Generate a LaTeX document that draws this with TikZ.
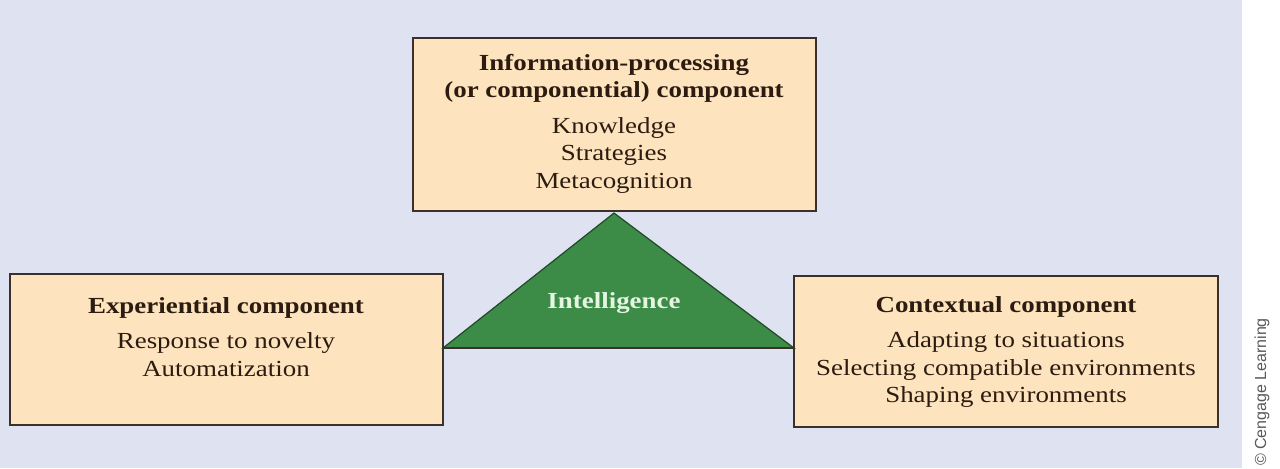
\documentclass[tikz,border=0pt]{standalone}
\usepackage{fontspec}
\setmainfont{Liberation Serif}[FakeStretch=1.17]
\setsansfont{Liberation Sans}
\usetikzlibrary{positioning}
\definecolor{bgblue}{HTML}{DEE2F1}
\definecolor{boxfill}{HTML}{FDE4BE}
\definecolor{boxline}{HTML}{3B302B}
\definecolor{textbrown}{HTML}{2B1B10}
\definecolor{triangreen}{HTML}{3C8B47}
\definecolor{triedge}{HTML}{1F4A26}
\definecolor{labelmint}{HTML}{E4F6E2}
\tikzset{
	% component boxes
	compbox/.style={draw=boxline,fill=boxfill,line width=1pt,inner sep=0pt},
	% text inside the boxes
	comptext/.style={text=textbrown,align=center,inner sep=0pt,font=\fontsize{11.5}{13.75}\selectfont},
}

\begin{document}
\begin{tikzpicture}[x=0.5pt,y=-0.5pt]
	\useasboundingbox (0,0) rectangle (1280,468);
	\fill[white] (0,0) rectangle (1280,468);
	\fill[bgblue] (0,0) rectangle (1242,468);
	
	\node[compbox,minimum width=201.5pt,minimum height=86.5pt] (procbox) at (614.5,124.5) {};
	\node[compbox,minimum width=216.5pt,minimum height=75.5pt] (expbox) at (226.5,349.5) {};
	\node[compbox,minimum width=212pt,minimum height=75.5pt] (ctxbox) at (1006,351.5) {};
	
	\coordinate (apex) at (614,213);
	\coordinate (baseL) at (443,348);
	\coordinate (baseR) at (794,348);
	\filldraw[fill=triangreen,draw=triedge,line width=0.6pt] (apex) -- (baseL) -- (baseR) -- cycle;
	\draw[boxline,line width=1pt] (baseL) -- (baseR);
	
	\node[comptext] (proctext) at (614,123.5) {\textbf{Information-processing}\\\textbf{(or componential) component}\\[4pt]Knowledge\\Strategies\\Metacognition};
	\node[comptext] (exptext) at (226,337) {\textbf{Experiential component}\\[4pt]Response to novelty\\Automatization};
	\node[comptext] (ctxtext) at (1006,352) {\textbf{Contextual component}\\[4pt]Adapting to situations\\Selecting compatible environments\\Shaping environments};
	
	\node[text=labelmint,font=\bfseries\fontsize{11.5}{13.75}\selectfont] (intel) at (614,303) {Intelligence};
	
	\node[rotate=90,text=black!65,font=\sffamily\fontsize{8}{10}\selectfont] (credit) at (1262,392) {© Cengage Learning};
\end{tikzpicture}
\end{document}
